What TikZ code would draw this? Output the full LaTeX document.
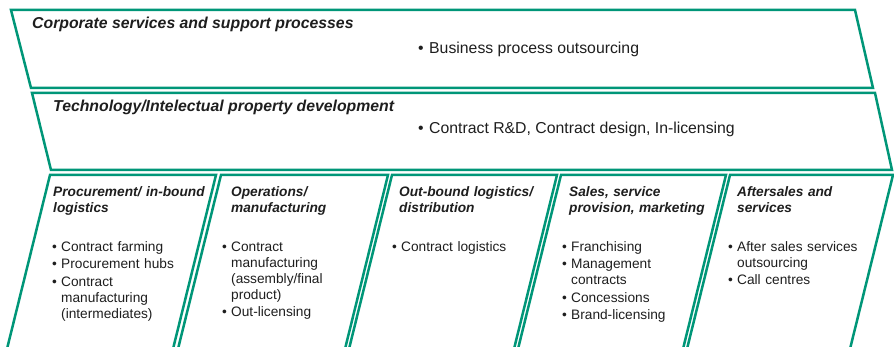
\documentclass[tikz,border=0pt]{standalone}
\usepackage{fontspec}
\setmainfont{Liberation Sans}
\definecolor{frame}{RGB}{0,150,120}
\definecolor{ink}{RGB}{30,30,30}
\newcommand{\bitem}[1]{\noindent\strut\makebox[9pt][l]{\textbullet}\parbox[t]{150pt}{\raggedright\strut #1\strut}}
\newcommand{\listsetup}{\setlength{\parskip}{1.3pt}\setlength{\lineskip}{0pt}}
\begin{document}
\begin{tikzpicture}[x=1pt,y=-1pt,
  band/.style={draw=frame,line width=2.5pt,line join=miter},
  colframe/.style={draw=frame,line width=2.5pt,line join=miter},
  bandtitle/.style={anchor=base west,inner sep=0pt,font=\fontsize{15.8}{16}\selectfont\bfseries\itshape,text=ink},
  bandtext/.style={anchor=base west,inner sep=0pt,font=\fontsize{15.8}{16}\selectfont,text=ink},
  coltitle/.style={anchor=base west,inner sep=0pt,text width=165pt,align=left,font=\fontsize{13.7}{16.3}\selectfont\bfseries\itshape,text=ink},
  collist/.style={anchor=base west,inner sep=0pt,text width=165pt,font=\fontsize{13.7}{16}\selectfont\listsetup,text=ink},
]
\useasboundingbox (0,0) rectangle (894,347);
% bands
\draw[band] (11,10) -- (855,10) -- (873,88) -- (31,88) -- cycle;
\draw[band] (32,93) -- (875,93) -- (892,170) -- (51,170) -- cycle;
% columns
\foreach \l/\r in {50/216, 221/388, 392/557, 561/726, 730/893}{
  \draw[colframe] (\l-44.5,355) -- (\l,175) -- (\r,175) -- (\r-44.5,355);
}
% band texts
\node[bandtitle] (t1) at (32,28.7) {Corporate services and support processes};
\node[bandtext] (b1) at (418,53.7) {\makebox[11pt][l]{\textbullet}Business process outsourcing};
\node[bandtitle] (t2) at (53,111.7) {Technology/Intelectual property development};
\node[bandtext] (b2) at (418,133.7) {\makebox[11pt][l]{\textbullet}Contract R\&D, Contract design, In-licensing};
% column titles
\node[coltitle] (c1) at (53,196.5) {Procurement/ in-bound\\logistics};
\node[coltitle] (c2) at (231,196.5) {Operations/\\manufacturing};
\node[coltitle] (c3) at (399,196.5) {Out-bound logistics/\\distribution};
\node[coltitle] (c4) at (569,196.5) {Sales, service\\provision, marketing};
\node[coltitle] (c5) at (737,196.5) {Aftersales and\\services};
% column lists
\node[collist] (l1) at (52,251.5) {\bitem{Contract farming}\par\bitem{Procurement hubs}\par\bitem{Contract\\manufacturing\\(intermediates)}};
\node[collist] (l2) at (222,251.5) {\bitem{Contract\\manufacturing\\(assembly/final\\product)}\par\bitem{Out-licensing}};
\node[collist] (l3) at (392,251.5) {\bitem{Contract logistics}};
\node[collist] (l4) at (562,251.5) {\bitem{Franchising}\par\bitem{Management\\contracts}\par\bitem{Concessions}\par\bitem{Brand-licensing}};
\node[collist] (l5) at (728,251.5) {\bitem{After sales services\\outsourcing}\par\bitem{Call centres}};
\end{tikzpicture}
\end{document}
